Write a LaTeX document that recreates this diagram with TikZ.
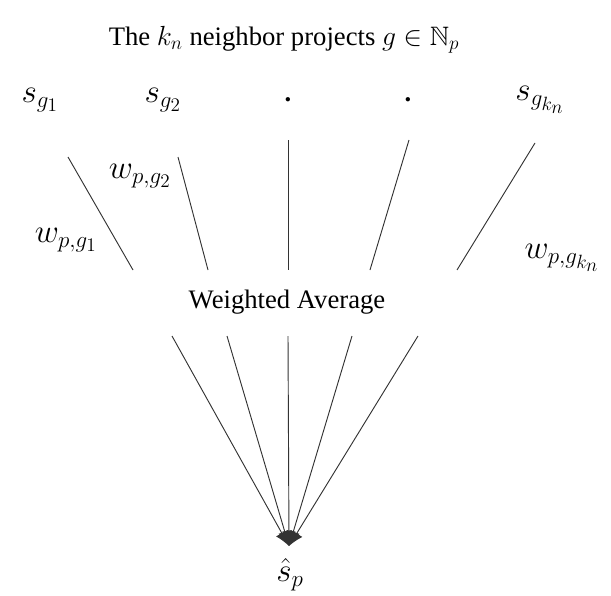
\documentclass[tikz,border=0pt]{standalone}
\usepackage{amssymb}
\usepackage{fontspec}
\setmainfont{Liberation Serif}
\usetikzlibrary{arrows.meta,positioning}
\DeclareMathSizes{24}{24}{19}{15}

\tikzset{
  lbl/.style={inner sep=1pt,font=\fontsize{20}{24}\selectfont},
  mlbl/.style={inner sep=1pt,font=\fontsize{24}{28}\selectfont},
  link/.style={line width=0.7pt,draw=black!80},
  feed/.style={link,-{Latex[length=11pt,width=10pt]}}
}

\begin{document}
\begin{tikzpicture}[x=0.75pt,y=-0.75pt]
    \useasboundingbox (0,0) rectangle (611,596);
    % header and the neighbor scores
    \node[lbl] (title) at (284,40) {The $k_n$ neighbor projects $g\in\mathbb{N}_p$};
    \node[mlbl] (s1) at (40,100) {$s_{g_1}$};
    \node[mlbl] (s2) at (163,100) {$s_{g_2}$};
    \node[lbl] (d1) at (288,100) {\textbf{.}};
    \node[lbl] (d2) at (408,100) {\textbf{.}};
    \node[mlbl] (sk) at (540,100) {$s_{g_{k_n}}$};
    \node[lbl] (avg) at (287,302) {Weighted Average};
    \node[mlbl] (shat) at (290,575) {$\hat{s}_p$};
    \coordinate (tip) at (289,546);

    % upper segments: score to average
    \coordinate (t1) at (68,157);  \coordinate (b1) at (133,270);
    \coordinate (t2) at (178,157); \coordinate (b2) at (208,270);
    \coordinate (t3) at (288,140); \coordinate (b3) at (288,270);
    \coordinate (t4) at (409,140); \coordinate (b4) at (370,270);
    \coordinate (t5) at (535,143); \coordinate (b5) at (457,270);
    \foreach \i in {1,...,5}
      \draw[link] (t\i) -- (b\i);

    % weights
    \node[mlbl] (w1) at (66,240) {$w_{p,g_1}$};
    \node[mlbl] (w2) at (140,176) {$w_{p,g_2}$};
    \node[mlbl] (wk) at (562,258) {$w_{p,g_{k_n}}$};

    % lower segments: average to estimate
    \foreach \x [count=\j] in {172,227,288,352,418}
      \coordinate (u\j) at (\x,336);
    \foreach \j in {1,...,5}
      \draw[feed] (u\j) -- (tip);
\end{tikzpicture}
\end{document}
